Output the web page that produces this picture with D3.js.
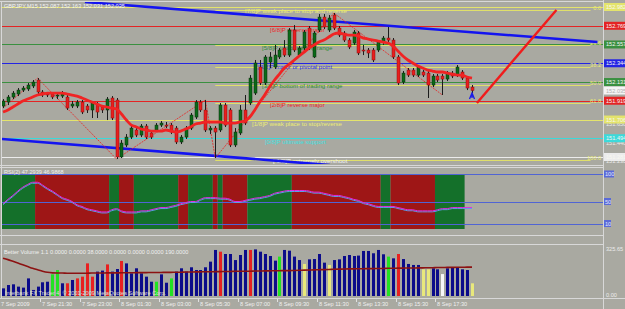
<!DOCTYPE html>
<html><head><meta charset="utf-8">
<script src="https://cdn.jsdelivr.net/npm/d3@7"></script>
<style>
html,body{margin:0;padding:0;background:#a9a9a1;overflow:hidden}
svg{display:block}
text{font-family:"Liberation Sans",Arial,sans-serif}
</style>
</head><body>
<svg id="c" width="625" height="309"></svg>
<script>
// ---------------- DATA ----------------
const symbolTitle = "GBPJPY,M15  152.087 152.163 152.031 152.035";
const rsiTitle = "RSI(2) 47.2939 46.9868";
const volTitle = "Better Volume 1.1 0.0000 0.0000 38.0000 0.0000 0.0000 0.0000 190.0000";
const copyright = "Interbank FX Trader 4, \u00a9 2001-2009 MetaQuotes Software Corp.";

// candles: [open, high, low, close]
const candles = [
[151.859,151.938,151.836,151.916],[151.904,151.984,151.870,151.961],[151.961,152.029,151.938,152.006],[151.995,152.063,151.972,152.040],
[152.040,152.086,152.018,152.063],[152.052,152.120,152.029,152.097],[152.086,152.154,152.063,152.131],[152.154,152.176,151.995,152.018],
[152.018,152.040,151.961,151.984],[151.995,152.018,151.961,151.984],[151.995,152.018,151.938,151.961],[151.972,152.006,151.938,151.984],
[151.972,152.029,151.950,152.006],[151.961,151.984,151.814,151.836],[151.859,151.916,151.836,151.882],[151.859,151.927,151.836,151.904],
[151.904,151.927,151.768,151.791],[151.859,151.882,151.780,151.814],[151.814,151.916,151.723,151.893],[151.882,151.904,151.723,151.791],
[151.848,151.870,151.780,151.814],[151.814,151.961,151.700,151.938],[151.950,151.972,151.700,151.723],[151.927,151.950,151.258,151.281],
[151.281,151.473,151.269,151.439],[151.417,151.541,151.394,151.507],[151.507,151.632,151.485,151.609],[151.587,151.609,151.507,151.530],
[151.530,151.655,151.507,151.632],[151.632,151.655,151.485,151.507],[151.553,151.575,151.485,151.507],[151.587,151.666,151.564,151.643],
[151.643,151.689,151.621,151.666],[151.643,151.678,151.609,151.632],[151.643,151.666,151.541,151.564],[151.609,151.632,151.428,151.451],
[151.451,151.530,151.428,151.507],[151.507,151.632,151.485,151.609],[151.609,151.780,151.587,151.757],[151.734,151.927,151.712,151.904],
[151.904,151.927,151.791,151.814],[151.814,151.927,151.564,151.587],[151.587,151.632,151.541,151.609],[151.609,151.632,151.269,151.564],
[151.587,151.893,151.564,151.870],[151.870,151.893,151.621,151.643],[151.814,151.836,151.394,151.417],[151.417,151.609,151.394,151.564],
[151.553,151.870,151.530,151.814],[151.814,151.984,151.643,151.666],[151.893,152.210,151.870,152.176],[152.006,152.381,151.984,152.347],
[152.301,152.381,152.097,152.120],[152.120,152.437,152.097,152.415],[152.358,152.471,152.290,152.415],[152.301,152.551,152.279,152.437],
[152.415,152.517,152.392,152.494],[152.517,152.607,152.415,152.437],[152.437,152.743,152.415,152.721],[152.721,152.777,152.471,152.494],
[152.437,152.539,152.415,152.517],[152.517,152.721,152.494,152.698],[152.743,152.766,152.494,152.517],[152.415,152.709,152.403,152.687],
[152.721,152.902,152.698,152.868],[152.868,152.902,152.732,152.755],[152.721,152.891,152.698,152.857],[152.891,152.914,152.721,152.743],
[152.743,152.766,152.641,152.664],[152.687,152.709,152.585,152.607],[152.607,152.630,152.505,152.528],[152.573,152.721,152.551,152.698],
[152.687,152.709,152.437,152.460],[152.494,152.551,152.437,152.483],[152.494,152.517,152.403,152.460],[152.494,152.517,152.358,152.381],
[152.494,152.607,152.471,152.585],[152.585,152.653,152.551,152.630],[152.630,152.755,152.585,152.607],[152.607,152.630,152.392,152.415],
[152.415,152.437,152.097,152.120],[152.131,152.256,152.108,152.233],[152.267,152.290,152.188,152.210],[152.267,152.290,152.188,152.210],
[152.210,152.324,152.188,152.301],[152.245,152.267,152.188,152.210],[152.233,152.256,151.950,152.097],[152.097,152.222,152.074,152.199],
[152.199,152.222,152.131,152.154],[152.199,152.222,151.984,152.165],[152.165,152.256,152.142,152.233],[152.233,152.256,152.176,152.199],
[152.210,152.324,152.188,152.301],[152.245,152.267,152.154,152.176],[152.176,152.199,152.040,152.063],[152.074,152.097,152.006,152.035]
];

const maValues = [151.791,
151.814,151.848,151.882,151.916,151.938,151.961,151.984,151.995,152.006,152.006,
152.006,152.006,151.995,151.984,151.972,151.950,151.927,151.904,151.882,151.859,
151.848,151.836,151.825,151.768,151.700,151.643,151.621,151.598,151.587,151.575,
151.575,151.575,151.587,151.575,151.564,151.575,151.598,151.621,151.655,151.666,151.678,
151.678,
151.678,151.678,151.666,151.666,151.666,151.678,151.689,151.734,151.814,151.904,
151.984,152.074,152.154,152.222,152.290,152.335,152.381,152.426,152.471,152.517,
152.551,152.585,152.607,152.641,152.675,152.687,152.675,152.664,152.664,152.653,
152.630,152.619,152.607,152.596,152.585,152.573,152.539,152.483,152.426,152.381,
152.347,152.313,152.290,152.267,152.256,152.245,152.245,152.233,152.222,152.210,
152.210,152.188,152.176];

const zigzag = [[0,151.836],[7,152.176],[23,151.258],[41,151.927],[43,151.269],[67,152.914],[89,151.984]];
const trendLines = [[[16.6,153.038],[120.4,152.585]],[[-0.2,151.485],[66.2,151.190]]];
const redTrend = [[96,151.893],[112.1,152.948]];
const arrowMarks = [[95,151.995]];

const murreyPrices = [152.982,152.769,152.557,152.344,152.131,151.919,151.706,151.494,151.281];
const murreyLabels = ["[7/8]P weak place to stop and reverse","[6/8]P reverse major","[5/8]P top of trading range",
 "[4/8]P major or pivotal point","[3/8]P bottom of trading range","[2/8]P reverse major",
 "[1/8]P weak place to stop/reverse","[0/8]P ultimate support","[-1/8]P extremely overshoot"];
const priceTicks = [151.650,151.440,151.230];

const fibHigh = 152.948, fibLow = 151.247, fibFrom = 43, fibTo = 119;
const fibRatios = [0,0.236,0.382,0.5,0.618,1];
const fibLabels = ["0.0","23.6","38.2","50.0","61.8","100.0"];

const rsiValues = [46,
54,61,69,76,81,85,85,80,74,69,63,57,54,50,44,41,37,35,33,31,31,35,37,33,31,31,31,33,33,35,37,39,39,41,43,46,48,50,50,54,57,
57,
57,56,56,54,50,50,52,54,56,57,59,61,65,67,69,70,70,70,70,69,67,67,65,63,61,61,59,57,54,52,48,46,43,41,41,41,41,39,37,35,35,33,33,33,33,35,37,37,39,39,39,39,39];
const rsiBandRuns = [["up",7],["dn",15],["up",2],["dn",3],["up",9],["dn",2],["up",5],["dn",1],["up",1],["dn",5],["up",9],["dn",18],["up",2],["dn",9],["up",6]];
const rsiLevels = [100,50,10];

const volumes = [53,76,81,65,58,122,42,65,95,99,
150,180,88,88,111,122,134,226,134,169,
176,219,169,187,243,226,157,192,157,134,
99,99,150,92,122,169,192,169,199,180,
180,199,238,319,307,291,291,249,284,319,
319,323,307,291,277,245,273,319,314,273,
249,222,
254,256,291,231,215,249,254,277,284,277,
280,312,312,296,319,289,273,261,291,256,
222,215,215,185,185,192,185,152,192,196,
199,185,180,88];
const volumeKinds = "BBBBBBBBBBGGBRBRRRRBBRBBRBBBBBBGBBGBBBBBBBBBRBBBBBRBBBBBGBBBBYBBBBYBBBBBBBBBBBGBRBBBBYYBBWBBBBBY";
const volumeMA = [262,252,240,228,216,204,192,182,172,164,160,
159,159,158,158,158,158,158,159,159,159,160,160,160,161,161,161,162,162,162,163,163,163,164,164,165,165,166,166,167,167,
168,168,169,169,170,170,171,171,172,172,173,173,174,174,175,175,176,176,177,178,179,180,181,182,183,184,185,186,187,188,
188,189,189,190,190,191,191,192,192,193,193,194,194,195,195,196,196,197,197,198,198,199,199,200,200];
const volMax = 325.65;

const timeLabels = ["7 Sep 2009","7 Sep 21:30","7 Sep 23:00","8 Sep 01:30","8 Sep 03:00","8 Sep 05:30","8 Sep 07:00","8 Sep 09:30","8 Sep 11:30","8 Sep 13:30","8 Sep 15:30","8 Sep 17:30"];
const timeLabelIdx = [0,8,16,24,32,40,48,56,64,72,80,88];

// ---------------- STYLE ----------------
const murreyColors = ["#e4e46c","#e42424","#3a9040","#2424e4","#3a9040","#e42424","#e4e46c","#3cdada","#ececec"];
const murreyTextColors = ["#ecec74","#ee2626","#2e8e36","#2a2af0","#2e8e36","#ee2626","#ecec74","#40e0e0","#f4f4f4"];
const murreyLabelX = [245,270,262,258,262,270,252,265,273];
const volColors = {B:"#0c0c8a",R:"#e82020",G:"#22e222",Y:"#e8e87c",W:"#f8f8f8"};
const FS = 5.6, LFS = 6.1;

// ---------------- DRAW ----------------
const svg = d3.select("#c");
const x = d3.scaleLinear().domain([0,95]).range([3,472]);
const step = x(1)-x(0);
const y = d3.scaleLinear().domain([151.281,152.982]).range([157,7]);
const yR = d3.scaleLinear().domain([0,100]).range([229,174]);
const yV = d3.scaleLinear().domain([0,volMax]).range([296,249]);
const f3 = d3.format(".3f");

svg.append("rect").attr("width",625).attr("height",309).attr("fill","#a9a9a1");

const defs = svg.append("defs");
defs.append("clipPath").attr("id","cm").append("rect").attr("x",2).attr("y",2).attr("width",601).attr("height",162);
defs.append("clipPath").attr("id","cr").append("rect").attr("x",2).attr("y",168).attr("width",601).attr("height",67);
defs.append("clipPath").attr("id","cv").append("rect").attr("x",2).attr("y",245).attr("width",601).attr("height",53);

// frame lines
const frame = svg.append("g").attr("stroke","#d8d8d8").attr("stroke-width",1).attr("fill","none");
[[0,1.5,603,1.5],[1.5,1,1.5,298],[603.5,0,603.5,309],[0,165.5,603,165.5],[0,167.5,603,167.5],
 [0,235.5,603,235.5],[0,244.5,603,244.5],[0,298.5,625,298.5]].forEach(l=>{
  frame.append("line").attr("x1",l[0]).attr("y1",l[1]).attr("x2",l[2]).attr("y2",l[3]);
});

// ---- main panel
const gm = svg.append("g").attr("clip-path","url(#cm)");

murreyPrices.forEach((p,i)=>{
  gm.append("line").attr("x1",2).attr("x2",603).attr("y1",Math.round(y(p))+0.5).attr("y2",Math.round(y(p))+0.5)
    .attr("stroke",murreyColors[i]).attr("stroke-width",1);
});
fibRatios.forEach((r,i)=>{
  const p = fibHigh - (fibHigh-fibLow)*r;
  const yy = Math.round(y(p))+0.5;
  gm.append("line").attr("x1",x(fibFrom)).attr("x2",x(fibTo)).attr("y1",yy).attr("y2",yy)
    .attr("stroke","#e0e06a").attr("stroke-width",1);
  gm.append("text").attr("x",601).attr("y",yy-1).attr("text-anchor","end").attr("font-size",FS)
    .attr("fill","#ecec74").text(fibLabels[i]);
});
murreyPrices.forEach((p,i)=>{
  gm.append("text").attr("x",murreyLabelX[i]).attr("y",y(p)+6).attr("font-size",LFS)
    .attr("fill",murreyTextColors[i]).text(murreyLabels[i]);
});

trendLines.forEach(tl=>{
  gm.append("path").attr("d",d3.line().x(d=>x(d[0])).y(d=>y(d[1]))(tl))
    .attr("stroke","#1414f0").attr("stroke-width",2.6).attr("fill","none");
});
gm.append("path").attr("d",d3.line().x(d=>x(d[0])).y(d=>y(d[1]))(redTrend))
  .attr("stroke","#f01c1c").attr("stroke-width",2.4).attr("fill","none");

gm.append("path").attr("d",d3.line().x(d=>x(d[0])).y(d=>y(d[1]))(zigzag))
  .attr("stroke","#e82222").attr("stroke-width",0.8).attr("stroke-dasharray","2,1").attr("fill","none");

const gc = gm.append("g");
candles.forEach((c,i)=>{
  const cx = Math.round(x(i));
  const [o,h,l,cl] = c;
  gc.append("line").attr("x1",cx+0.5).attr("x2",cx+0.5).attr("y1",y(h)).attr("y2",y(l))
    .attr("stroke","#1c1c1c").attr("stroke-width",1);
  const top = y(Math.max(o,cl)), bot = y(Math.min(o,cl));
  const up = cl>=o;
  gc.append("rect").attr("x",cx-1).attr("y",top).attr("width",3).attr("height",Math.max(1,bot-top))
    .attr("fill",up?"#0a6a18":"#e81e1e").attr("stroke",up?"#0c2c0c":"#8a1010").attr("stroke-width",0.5);
});

gm.append("path").attr("d",d3.line().curve(d3.curveMonotoneX).x((d,i)=>x(i)).y(d=>y(d))(maValues))
  .attr("stroke","#f02424").attr("stroke-width",2.8).attr("fill","none");

arrowMarks.forEach(a=>{
  const ax = x(a[0]), ay = y(a[1]);
  gm.append("path").attr("d",`M${ax-2.5},${ay+5} L${ax},${ay-1} L${ax+2.5},${ay+5} M${ax},${ay-1} L${ax},${ay+4}`)
    .attr("stroke","#1a1ae8").attr("stroke-width",1.3).attr("fill","none");
});

svg.append("text").attr("x",4).attr("y",8).attr("font-size",FS).attr("fill","#f4f4f4").text(symbolTitle);

// right price axis
const ax = svg.append("g");
priceTicks.forEach(p=>{
  ax.append("text").attr("x",606).attr("y",y(p)+2).attr("font-size",FS).attr("fill","#ececec").text(f3(p));
});
murreyPrices.forEach((p,i)=>{
  const yy = y(p);
  ax.append("rect").attr("x",604).attr("y",yy-4).attr("width",21).attr("height",8).attr("fill",murreyColors[i]);
  ax.append("text").attr("x",606).attr("y",yy+2).attr("font-size",FS)
    .attr("fill",(i===0||i===6||i===8)?"#f8f8f0":"#f4f4f4").text(f3(p));
});
{
  const last = candles[candles.length-1][3];
  const yy = y(last);
  ax.append("rect").attr("x",604).attr("y",yy-4).attr("width",21).attr("height",8).attr("fill","#f4f4f4");
  ax.append("text").attr("x",606).attr("y",yy+2).attr("font-size",FS).attr("fill","#b0b0b0").text(f3(last));
}

// ---- RSI panel
const gr = svg.append("g").attr("clip-path","url(#cr)");
let start = 0;
rsiBandRuns.forEach(([k,n])=>{
  const x0 = start===0 ? 2 : x(start)-step/2;
  const x1 = x(start+n-1)+step/2;
  gr.append("rect").attr("x",x0).attr("y",yR(100)).attr("width",x1-x0).attr("height",yR(0)-yR(100))
    .attr("fill",k==="up"?"#14702a":"#9e1616");
  start += n;
});
rsiLevels.forEach(v=>{
  gr.append("line").attr("x1",2).attr("x2",603).attr("y1",Math.round(yR(v))+0.5).attr("y2",Math.round(yR(v))+0.5)
    .attr("stroke","#5064d4").attr("stroke-width",1);
});
const rl = d3.line().x((d,i)=>x(i)).y(d=>yR(d)).curve(d3.curveMonotoneX);
gr.append("path").attr("d",rl(rsiValues)).attr("transform","translate(0,1)").attr("stroke","#5aa0e6").attr("stroke-width",1).attr("fill","none");
gr.append("path").attr("d",rl(rsiValues)).attr("stroke","#e02ce0").attr("stroke-width",1).attr("fill","none");
svg.append("text").attr("x",4).attr("y",174).attr("font-size",FS).attr("fill","#f0f0f0").text(rsiTitle);
rsiLevels.forEach(v=>{
  const yy = yR(v);
  ax.append("rect").attr("x",604).attr("y",yy-3.5).attr("width",v===100?10:7).attr("height",7).attr("fill","#5a6ad8");
  ax.append("text").attr("x",605).attr("y",yy+2).attr("font-size",FS).attr("fill","#e8e8f8").text(v);
});

// ---- Volume panel
const gv = svg.append("g").attr("clip-path","url(#cv)");
volumes.forEach((v,i)=>{
  const cx = Math.round(x(i));
  gv.append("rect").attr("x",cx-1).attr("y",yV(v)).attr("width",3).attr("height",yV(0)-yV(v))
    .attr("fill",volColors[volumeKinds[i]]);
});
gv.append("path").attr("d",d3.line().x((d,i)=>x(i)).y(d=>yV(d)).curve(d3.curveMonotoneX)(volumeMA))
  .attr("stroke","#8c1212").attr("stroke-width",1.6).attr("fill","none");
svg.append("text").attr("x",4).attr("y",254).attr("font-size",FS).attr("fill","#f0f0f0").text(volTitle);
svg.append("text").attr("x",5).attr("y",295).attr("font-size",FS).attr("fill","#e4e4e4").attr("opacity",0.9).text(copyright);
ax.append("text").attr("x",606).attr("y",yV(volMax)+2).attr("font-size",FS).attr("fill","#ececec").text(d3.format(".2f")(volMax));
ax.append("text").attr("x",606).attr("y",yV(0)+1).attr("font-size",FS).attr("fill","#ececec").text(d3.format(".2f")(0));

// ---- time axis
timeLabelIdx.forEach((idx,i)=>{
  const tx = Math.round(x(idx));
  if(i>0) svg.append("line").attr("x1",tx-1.5).attr("x2",tx-1.5).attr("y1",299).attr("y2",302).attr("stroke","#e0e0e0");
  svg.append("text").attr("x",i===0?1:tx).attr("y",306).attr("font-size",FS).attr("fill","#f0f0f0").text(timeLabels[i]);
});
</script>
</body></html>
